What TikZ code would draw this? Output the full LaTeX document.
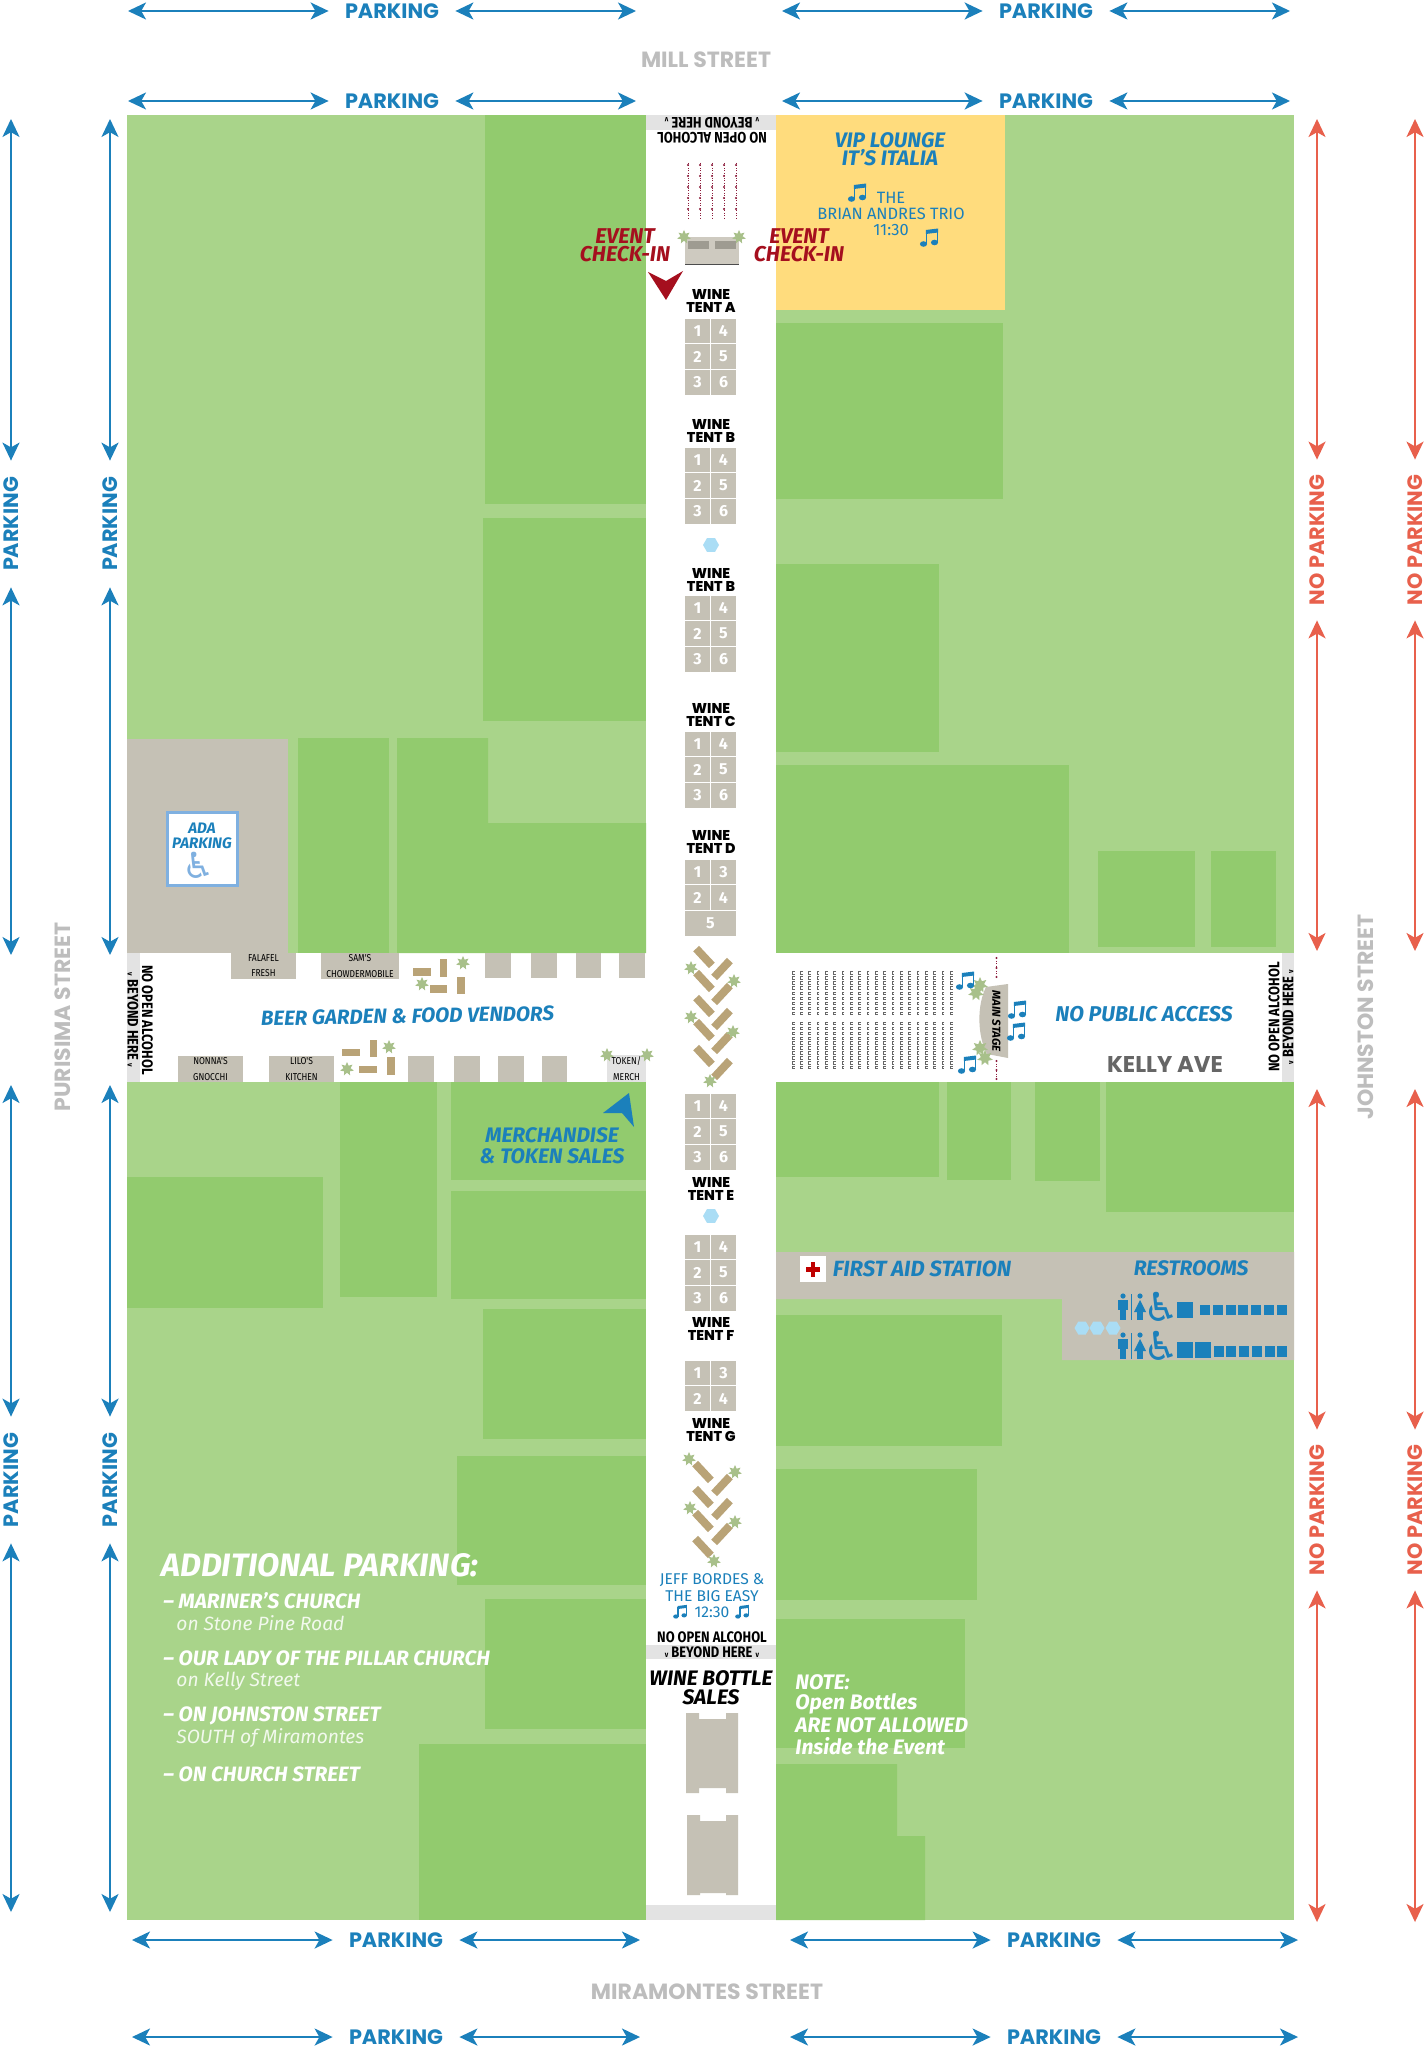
\documentclass[tikz,border=0pt]{standalone}
\usepackage{fontspec}
\setmainfont{Fira Sans}
\newfontfamily\gothfont{Poppins}
\newfontfamily\gothblack{Poppins ExtraBold}
\newfontfamily\condfont[FakeStretch=0.85]{Fira Sans}
\newfontfamily\symfont{DejaVu Sans}
\usetikzlibrary{arrows.meta,calc,shapes.geometric}
\definecolor{lawn}{HTML}{A9D48A}
\definecolor{block}{HTML}{92CB6E}
\definecolor{pave}{HTML}{C5C1B5}
\definecolor{vipgold}{HTML}{FFDC7D}
\definecolor{parkblue}{HTML}{1B80BB}
\definecolor{noparkred}{HTML}{E8604C}
\definecolor{checkred}{HTML}{A50F1E}
\definecolor{bandgrey}{HTML}{E3E3E3}
\definecolor{streetgrey}{HTML}{BDBDBD}
\definecolor{tabletan}{HTML}{B9A377}
\definecolor{palmgreen}{HTML}{A8C08A}
\definecolor{lightsred}{HTML}{8C1C3C}
\definecolor{adablue}{HTML}{7FB0E0}
\definecolor{iceblue}{HTML}{AADDF5}
\tikzset{
  parkarrow/.style={arrows={Stealth[length=9pt,width=8.5pt,inset=2.4pt]-Stealth[length=9pt,width=8.5pt,inset=2.4pt]},line width=1pt,draw=parkblue},
  redarrow/.style={parkarrow,draw=noparkred},
  parklabel/.style={font=\gothfont\bfseries\fontsize{10.4}{10}\selectfont,text=parkblue,minimum width=63pt,inner sep=0pt},
  noparklabel/.style={font=\gothfont\bfseries\fontsize{10.4}{10}\selectfont,text=noparkred,minimum width=80pt,inner sep=0pt},
  streetlabel/.style={font=\gothfont\bfseries\fontsize{11}{11}\selectfont,text=streetgrey,inner sep=0pt},
  bluehead/.style={font=\bfseries\itshape\fontsize{#1}{#1}\selectfont,text=parkblue,align=center,inner sep=0pt},
  checklabel/.style={font=\bfseries\itshape\fontsize{10.7}{9}\selectfont,text=checkred,align=center,inner sep=0pt},
  tentlabel/.style={font=\gothblack\fontsize{7.1}{6.9}\selectfont,align=center,inner sep=0pt},
  cellbox/.style={fill=pave,draw=white,line width=0.3pt,inner sep=0pt,minimum width=13pt,minimum height=12.83pt,text=white,font=\bfseries\fontsize{8}{8}\selectfont},
  vendorbox/.style={fill=pave,inner sep=0pt,align=center,font=\condfont\fontsize{5}{7.6}\selectfont},
  tablebox/.style={fill=tabletan,inner sep=0pt,minimum width=11.5pt,minimum height=4pt},
  palm/.style={star,star points=7,star point ratio=1.9,fill=palmgreen,inner sep=0pt,minimum size=#1},
  palm/.default=7pt,
  hexdot/.style={regular polygon,regular polygon sides=6,fill=iceblue,inner sep=0pt,minimum size=8pt},
  alcohol/.style={font=\condfont\bfseries\fontsize{7.6}{7}\selectfont,inner sep=0pt},
  noteline/.style={font=\bfseries\itshape\fontsize{10.5}{9}\selectfont,text=white,anchor=west,inner sep=0pt},
  addline/.style={font=\bfseries\itshape\fontsize{10.4}{9}\selectfont,text=white,anchor=west,inner sep=0pt},
  addsub/.style={font=\itshape\fontsize{9.6}{9}\selectfont,text=white!85!lawn,anchor=west,inner sep=0pt},
  beamnote/.pic={
    \fill[parkblue] (-5.5,6) circle [x radius=3.6,y radius=2.8];
    \fill[parkblue] (5.5,4.5) circle [x radius=3.6,y radius=2.8];
    \draw[parkblue,line width=0.7pt] (-2.5,6) -- (-2.5,-6.5);
    \draw[parkblue,line width=0.7pt] (8.5,4.5) -- (8.5,-8);
    \fill[parkblue] (-3.2,-8) -- (9.2,-9.5) -- (9.2,-5.5) -- (-3.2,-4) -- cycle;
  },
}
\begin{document}
\begin{tikzpicture}[x=0.5pt,y=-0.5pt]
  \useasboundingbox (0,0) rectangle (1424,2048);
  \fill[white] (0,0) rectangle (1424,2048);
  \fill[lawn] (127,115) rectangle (1294,1920);
  \fill[white] (646,115) rectangle (776,1920);
  \fill[white] (127,953) rectangle (1294,1082);
  \foreach \xa/\ya/\xb/\yb in {485/115/646/504, 483/518/646/721, 298/738/389/953,
      451/1082/646/1180, 340/1082/437/1297, 127/1177/323/1308, 451/1191/646/1299,
      483/1309/646/1439, 457/1456/646/1585, 485/1599/646/1729, 419/1744/646/1920,
      776/323/1003/499, 776/564/939/752, 776/765/1069/953, 1098/851/1195/947, 1211/851/1276/947,
      776/1082/939/1177, 947/1082/1011/1180, 1035/1082/1100/1181, 1106/1082/1294/1212,
      776/1315/1002/1446, 776/1469/977/1600, 776/1619/965/1748}
    \fill[block] (\xa,\ya) rectangle (\xb,\yb);
  \fill[block] (397,738) -- (488,738) -- (488,823) -- (646,823) -- (646,953) -- (397,953) -- cycle;
  \fill[block] (776,1764) -- (897,1764) -- (897,1836) -- (925,1836) -- (925,1920) -- (776,1920) -- cycle;
  \fill[vipgold] (776,115) rectangle (1005,310);
  \fill[pave] (127,739) rectangle (288,953);
  \fill[pave] (776,1252) -- (1294,1252) -- (1294,1360) -- (1062,1360) -- (1062,1299) -- (776,1299) -- cycle;
  \fill[bandgrey] (646,115) rectangle (776,130);
  \fill[bandgrey] (646,1645) rectangle (776,1659);
  \fill[bandgrey] (646,1905) rectangle (776,1920);
  \fill[bandgrey] (127,953) rectangle (140,1082);
  \fill[bandgrey] (1282,953) rectangle (1294,1082);

  \foreach \ax/\ay [count=\n] in {128/11,128/101,782/11,782/101,132/1940,132/2037,790/1940,790/2037} {
    \node[parklabel] (parkh\n) at (\ax+264,\ay) {PARKING};
    \coordinate (parkha\n) at (\ax,\ay);
    \coordinate (parkhb\n) at (\ax+508,\ay);
    \draw[parkarrow] (parkha\n) -- (parkh\n.west);
    \draw[parkarrow] (parkh\n.east) -- (parkhb\n);
  }
  \foreach \ax/\ay/\ya/\yb [count=\n] in {11/524/119/955,110/524/119/955,11/1480/1085/1912,110/1480/1085/1912} {
    \node[parklabel,rotate=90] (parkv\n) at (\ax,\ay) {PARKING};
    \coordinate (parkva\n) at (\ax,\ya);
    \coordinate (parkvb\n) at (\ax,\yb);
    \draw[parkarrow] (parkva\n) -- (parkv\n.east);
    \draw[parkarrow] (parkv\n.west) -- (parkvb\n);
  }
  \foreach \ax/\ay/\ya/\yb [count=\n] in {1317/540/119/951,1415/540/119/951,1317/1510/1089/1922,1415/1510/1089/1922} {
    \node[noparklabel,rotate=90] (nopark\n) at (\ax,\ay) {NO PARKING};
    \coordinate (noparka\n) at (\ax,\ya);
    \coordinate (noparkb\n) at (\ax,\yb);
    \draw[redarrow] (noparka\n) -- (nopark\n.east);
    \draw[redarrow] (nopark\n.west) -- (noparkb\n);
  }
  \node[streetlabel] (millst) at (706,60) {MILL STREET};
  \node[streetlabel,rotate=90] (purisima) at (63,1017) {PURISIMA STREET};
  \node[streetlabel,rotate=90] (johnston) at (1366,1017) {JOHNSTON STREET};
  \node[streetlabel] (miramontes) at (707,1992) {MIRAMONTES STREET};

  \node[alcohol,rotate=180] (alctop) at (712,138) {NO OPEN ALCOHOL};
  \node[alcohol,rotate=180] (beytop) at (712,123) {{\fontsize{4}{4}\selectfont v} BEYOND HERE {\fontsize{4}{4}\selectfont v}};
  \node[alcohol] (alcbot) at (712,1637) {NO OPEN ALCOHOL};
  \node[alcohol] (beybot) at (712,1652) {{\fontsize{4}{4}\selectfont v} BEYOND HERE {\fontsize{4}{4}\selectfont v}};
  \node[alcohol,rotate=-90] (alcleft) at (147.5,1020) {NO OPEN ALCOHOL};
  \node[alcohol,rotate=-90] (beyleft) at (133,1020) {{\fontsize{4}{4}\selectfont v} BEYOND HERE {\fontsize{4}{4}\selectfont v}};
  \node[alcohol,rotate=90] (alcright) at (1274,1017) {NO OPEN ALCOHOL};
  \node[alcohol,rotate=90] (beyright) at (1288,1017) {{\fontsize{4}{4}\selectfont v} BEYOND HERE {\fontsize{4}{4}\selectfont v}};

  \foreach \sx in {688,700,712,724,736} {
    \draw[lightsred,line width=0.25pt,densely dotted] (\sx,163) -- (\sx,219);
    \foreach \sy in {165,176,...,219}
      \fill[lightsred] (\sx,\sy) circle (1.2);
  }
  \foreach \sy in {958,968,977,1061,1070,1079}
    \fill[lightsred] (996.5,\sy) circle (1.2);
  \draw[lightsred,line width=0.25pt,densely dotted] (996.5,958) -- (996.5,977);
  \draw[lightsred,line width=0.25pt,densely dotted] (996.5,1061) -- (996.5,1079);

  \fill[pave!85!white] (685,237) rectangle (739,264);
  \draw[black!70,line width=0.4pt] (685,264) -- (739,264);
  \fill[pave!80!black] (688,241) rectangle (709,249);
  \fill[pave!80!black] (715,241) rectangle (736,249);
  \node[palm] (palmcia) at (684,237) {};
  \node[palm] (palmcib) at (739,237) {};
  \node[checklabel] (checkleft) at (625,245) {EVENT\\CHECK-IN};
  \node[checklabel] (checkright) at (799,245) {EVENT\\CHECK-IN};
  \fill[checkred] (648,272) -- (666,281) -- (683,271) -- (666,300) -- cycle;

  \node[bluehead=9,font=\bfseries\itshape\fontsize{10.5}{9}\selectfont] (viplabel) at (890,149) {VIP LOUNGE\\IT'S ITALIA};
  \node[align=center,inner sep=0pt,text=parkblue,font=\fontsize{8.2}{8}\selectfont] (triolabel) at (891,214) {THE\\BRIAN ANDRES TRIO\\11:30};
  \pic at (857,193) {beamnote};
  \pic at (929,238) {beamnote};

  \foreach \ty in {318,447,595,731,1093,1234}
    \foreach \r/\a/\b in {0/1/4,1/2/5,2/3/6} {
      \node[cellbox] (cell\ty a\a) at (697.5,\ty+12.83+25.67*\r) {\a};
      \node[cellbox] (cell\ty b\b) at (723.5,\ty+12.83+25.67*\r) {\b};
    }
  \foreach \r/\a/\b in {0/1/3,1/2/4} {
    \node[cellbox] (celld\a) at (697.5,859+12.83+25.67*\r) {\a};
    \node[cellbox] (celldb\b) at (723.5,859+12.83+25.67*\r) {\b};
    \node[cellbox] (cellg\a) at (697.5,1360+12.83+25.67*\r) {\a};
    \node[cellbox] (cellgb\b) at (723.5,1360+12.83+25.67*\r) {\b};
  }
  \node[cellbox,minimum width=26pt] (celld5) at (710.5,923.5) {5};
  \foreach \ly/\tn [count=\n] in {301/A,431/B,580/B,715/C,842/D,1189/E,1329/F,1430/G}
    \node[tentlabel] (tent\n) at (711,\ly) {WINE\\TENT \tn};
  \node[hexdot] (hexa) at (711,545) {};
  \node[hexdot] (hexb) at (711,1216) {};

  \foreach \tx/\ty [count=\n] in {704/957,704/981,704/1006,704/1030,704/1056,703/1472,703/1497,703/1521,703/1547}
    \node[tablebox,rotate=-47] (herbl\n) at (\tx,\ty) {};
  \foreach \tx/\ty [count=\n] in {722/969,722/994,722/1019,722/1043,722/1069,722/1485,722/1509,722/1534}
    \node[tablebox,rotate=47] (herbr\n) at (\tx,\ty) {};
  \foreach \tx/\ty [count=\n] in {691/968,734/981,691/1017,733/1032,710/1081,689/1459,735/1472,690/1508,735/1522,714/1561}
    \node[palm] (palmh\n) at (\tx,\ty) {};

  \node[vendorbox,minimum width=32.5pt,minimum height=13pt] (falafel) at (263.5,966) {FALAFEL\\FRESH};
  \node[vendorbox,minimum width=39pt,minimum height=13pt] (samsbox) at (360,966) {SAM'S\\CHOWDERMOBILE};
  \node[vendorbox,minimum width=32.5pt,minimum height=13pt] (nonnas) at (210.5,1069) {NONNA'S\\GNOCCHI};
  \node[vendorbox,minimum width=32.5pt,minimum height=13pt] (lilos) at (301.5,1069) {LILO'S\\KITCHEN};
  \node[vendorbox,fill=bandgrey,minimum width=19.5pt,minimum height=13.5pt] (tokenbox) at (626.5,1068.5) {TOKEN/\\MERCH};
  \foreach \xa/\xb in {485/511,531/557,576/601,619/645}
    \fill[pave] (\xa,953) rectangle (\xb,978);
  \foreach \xa/\xb in {408/434,454/480,498/524,542/567}
    \fill[pave] (\xa,1056) rectangle (\xb,1082);
  \foreach \xa/\ya/\xb/\yb in {413/968/431/976,440/959/447/977,430/985/447/993,457/977/465/994,
      342/1049/360/1056,370/1040/377/1057,359/1066/377/1073,387/1057/395/1075}
    \fill[tabletan] (\xa,\ya) rectangle (\xb,\yb);
  \foreach \tx/\ty [count=\n] in {463/963,422/984,389/1047,347/1069,607/1055,647/1055}
    \node[palm] (palmg\n) at (\tx,\ty) {};
  \node[bluehead=10.3,rotate=1] (beerlabel) at (407.5,1016) {BEER GARDEN \& FOOD VENDORS};

  \draw[adablue,line width=1.5pt,fill=white] (167,812) rectangle (237,885);
  \node[bluehead=7.6] (adalabel) at (202,835.5) {ADA\\PARKING};
  \node[inner sep=0pt,text=adablue,font=\symfont\fontsize{18}{18}\selectfont] (adawheel) at (199,865) {♿};

  \fill[parkblue] (629,1093) -- (603,1113) -- (622,1113) -- (634,1127) -- cycle;
  \node[bluehead=10.5] (merchlabel) at (552,1145.5) {MERCHANDISE\\\& TOKEN SALES};

  \foreach \cx in {0,...,19} {
    \foreach \cy in {0,...,8}
      \draw[black!60,line width=0.2pt] (794.5+8.32*\cx,971.5+5.05*\cy) -- ++(-2.5,0) -- ++(0,2.5) -- ++(2.5,0);
    \foreach \cy in {0,...,9}
      \draw[black!60,line width=0.2pt] (794.5+8.32*\cx,1022+4.9*\cy) -- ++(-2.5,0) -- ++(0,2.5) -- ++(2.5,0);
  }
  \fill[pave] (986,987) -- (1008,984) -- (1008,1058) -- (987,1054) .. controls (977,1035) and (977,1005) .. (986,987) -- cycle;
  \foreach \tx/\ty [count=\n] in {980/985,976/993,980/1048,985/1058}
    \node[palm=8pt] (palmst\n) at (\tx,\ty) {};
  \node[inner sep=0pt,rotate=-90,font=\bfseries\itshape\fontsize{5.8}{6}\selectfont] (stagelabel) at (996.5,1021) {MAIN STAGE};
  \pic at (965,981) {beamnote};
  \pic at (1017,1010) {beamnote};
  \pic at (1016,1032) {beamnote};
  \pic at (967,1065) {beamnote};
  \node[bluehead=10.7] (nopublic) at (1144,1014) {NO PUBLIC ACCESS};
  \node[inner sep=0pt,text=black!60,font=\gothfont\bfseries\fontsize{11.4}{11}\selectfont] (kellyave) at (1165,1064) {KELLY AVE};

  \node[fill=white,minimum size=13pt,inner sep=0pt] (aidbox) at (813,1269) {};
  \fill[red!75!black] (806,1267) rectangle (820,1271.5);
  \fill[red!75!black] (810.7,1262) rectangle (815.2,1276.5);
  \node[bluehead=11] (aidlabel) at (922,1269) {FIRST AID STATION};
  \node[bluehead=10.5] (restlabel) at (1191,1268) {RESTROOMS};
  \foreach \ry in {1307,1346} {
    \fill[parkblue] (1123,\ry-11) circle (2.6);
    \fill[parkblue] (1118,\ry-7) rectangle (1128,\ry+3);
    \fill[parkblue] (1120,\ry+3) rectangle (1126,\ry+13);
    \draw[parkblue,line width=0.3pt] (1131.5,\ry-13) -- (1131.5,\ry+13);
    \fill[parkblue] (1140,\ry-11) circle (2.6);
    \fill[parkblue] (1140,\ry-7) -- (1146,\ry+5) -- (1134,\ry+5) -- cycle;
    \fill[parkblue] (1137,\ry+5) rectangle (1143,\ry+13);
    \node[inner sep=0pt,text=parkblue,font=\symfont\fontsize{20}{20}\selectfont] (wheel\ry) at (1161,\ry) {♿};
  }
  \fill[parkblue] (1177,1302) rectangle (1193,1318);
  \fill[parkblue] (1177,1342) rectangle (1193,1358);
  \fill[parkblue] (1195,1342) rectangle (1211,1358);
  \foreach \k in {0,...,6}
    \fill[parkblue] (1200+12.75*\k,1304.5) rectangle ++(10,10.5);
  \foreach \k in {0,...,5}
    \fill[parkblue] (1213.5+12.75*\k,1345.5) rectangle ++(10,11);
  \foreach \hx/\hn in {1082/a,1097/b,1113/c}
    \node[hexdot,minimum size=7.5pt] (hexr\hn) at (\hx,1328) {};

  \node[inner sep=0pt,align=center,text=parkblue,font=\fontsize{7.8}{8.2}\selectfont] (jefflabel) at (712,1596) {JEFF BORDES \&\\THE BIG EASY\\12:30};
  \pic[scale=0.75] at (680,1612) {beamnote};
  \pic[scale=0.75] at (742,1612) {beamnote};
  \node[inner sep=0pt,align=center,font=\bfseries\itshape\fontsize{10.5}{9.3}\selectfont] (bottlelabel) at (711,1688) {WINE BOTTLE\\SALES};
  \fill[pave] (686,1713) -- (699,1713) -- (699,1719) -- (726,1719) -- (726,1713) -- (738,1713) -- (738,1793) -- (726,1793) -- (726,1788) -- (699,1788) -- (699,1793) -- (686,1793) -- cycle;
  \fill[pave] (687,1815) -- (700,1815) -- (700,1821) -- (726,1821) -- (726,1815) -- (738,1815) -- (738,1895) -- (726,1895) -- (726,1893) -- (700,1893) -- (700,1895) -- (687,1895) -- cycle;

  \node[noteline] (notea) at (795,1682) {NOTE:};
  \node[noteline] (noteb) at (795,1704) {Open Bottles};
  \node[noteline] (notec) at (795,1725) {ARE NOT ALLOWED};
  \node[noteline] (noted) at (795,1746) {Inside the Event};

  \node[bluehead=16.2,anchor=west,text=white] (addhead) at (161,1565) {ADDITIONAL PARKING:};
  \node[addline] (adda) at (163,1601) {-- MARINER'S CHURCH};
  \node[addsub] (addas) at (176,1623) {on Stone Pine Road};
  \node[addline] (addb) at (163,1658) {-- OUR LADY OF THE PILLAR CHURCH};
  \node[addsub] (addbs) at (176,1681) {on Kelly Street};
  \node[addline] (addc) at (163,1716) {-- ON JOHNSTON STREET};
  \node[addsub] (addcs) at (176,1738) {SOUTH of Miramontes};
  \node[addline] (addd) at (163,1774) {-- ON CHURCH STREET};
\end{tikzpicture}
\end{document}
